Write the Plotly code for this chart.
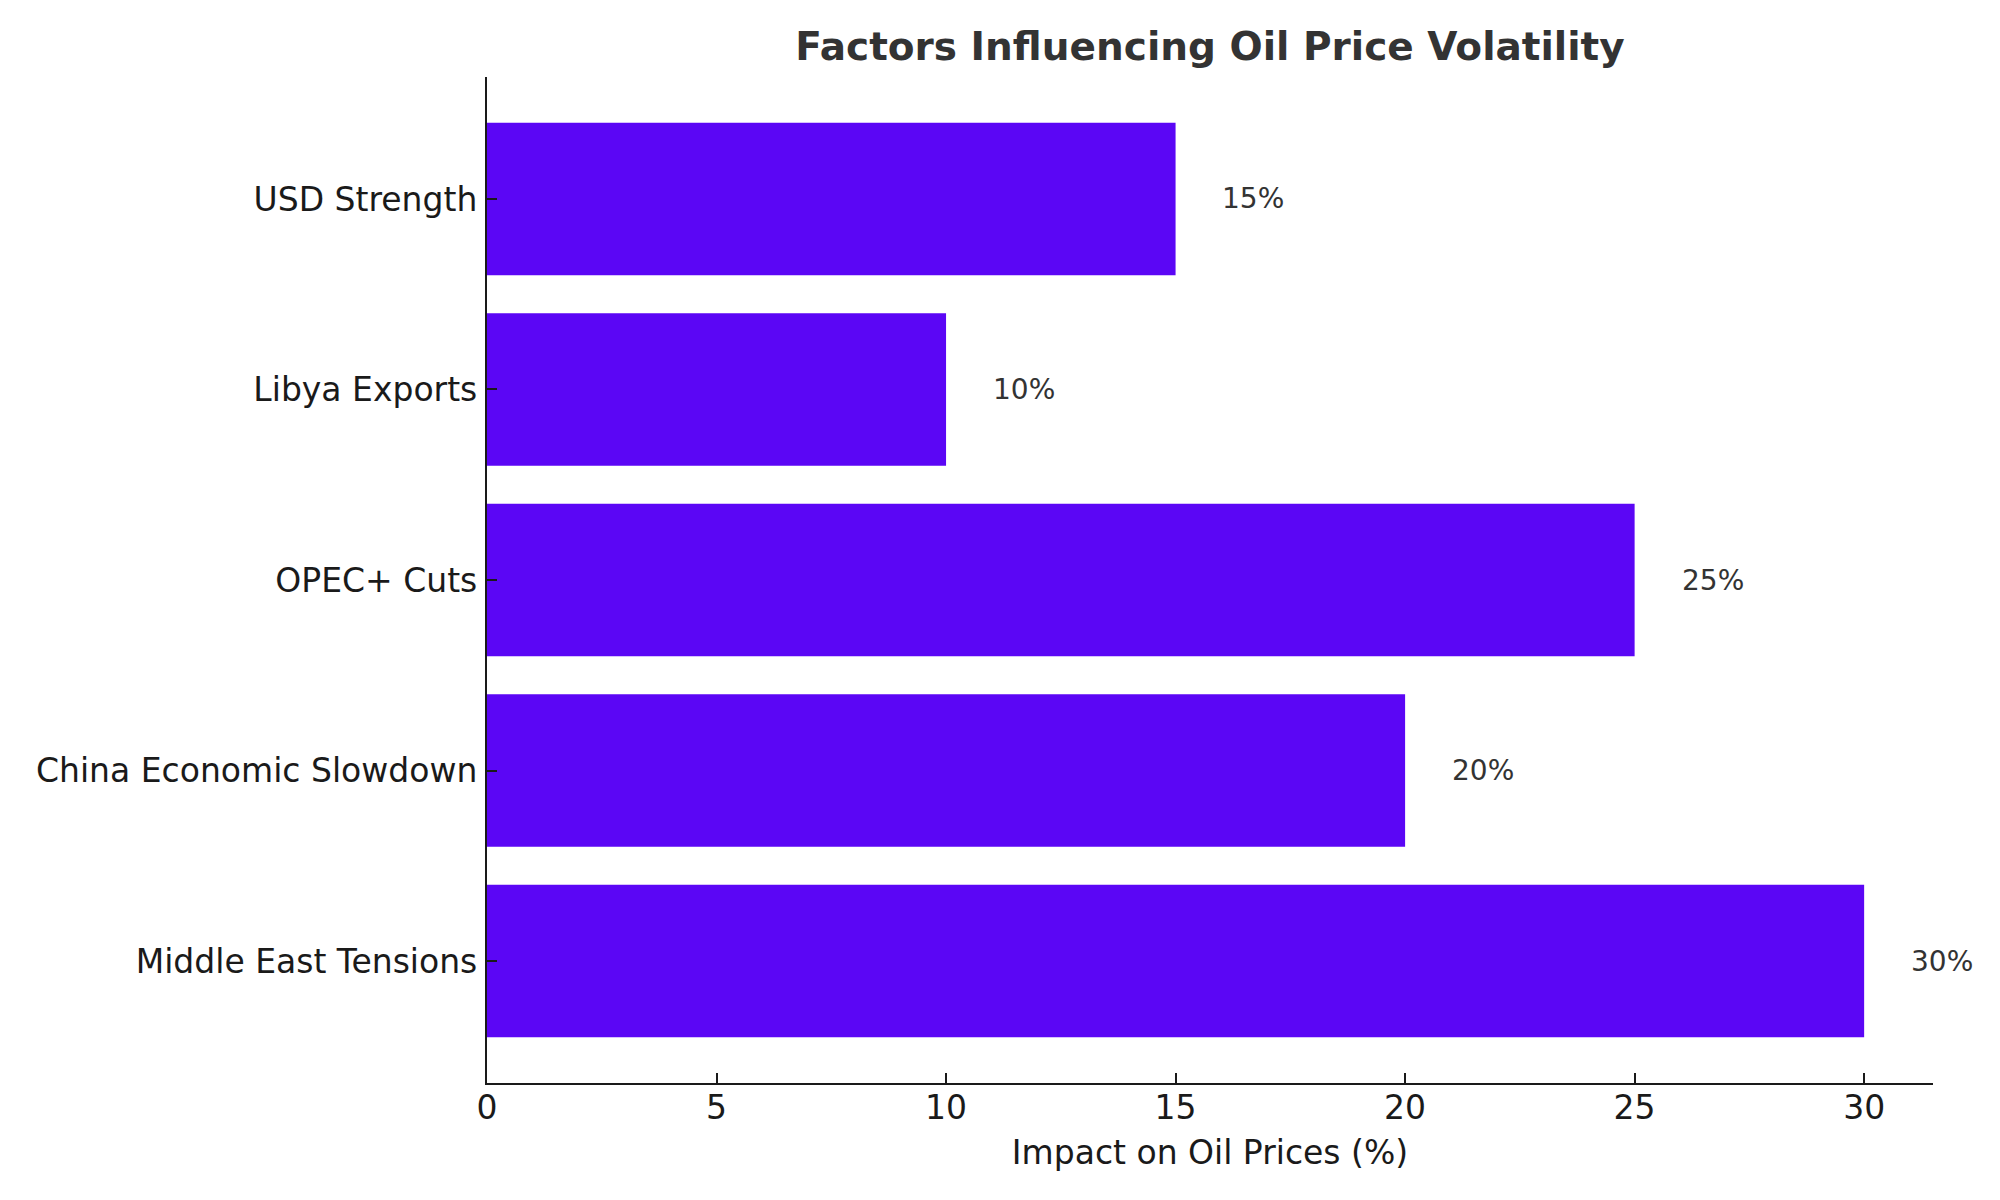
import plotly.graph_objects as go

categories = ["Middle East Tensions", "China Economic Slowdown", "OPEC+ Cuts", "Libya Exports", "USD Strength"]
impact = [30, 20, 25, 10, 15]
x_ticks = [0, 5, 10, 15, 20, 25, 30]

BAR_COLOR = "#5b06f5"
FONT = "DejaVu Sans"
W, H = 1992, 1192  # page body has an 8px margin

fig = go.Figure()
fig.add_trace(go.Bar(
    y=categories, x=impact, orientation="h",
    marker=dict(color=BAR_COLOR, line=dict(width=0)),
    width=0.8, hoverinfo="x+y",
))

for c, v in zip(categories, impact):
    fig.add_annotation(
        x=v + 1, y=c, text=f"{v}%", showarrow=False,
        xanchor="left", yanchor="middle", xref="x", yref="y",
        font=dict(family=FONT, size=28, color="#333333"), borderpad=0,
    )

fig.update_layout(
    width=W, height=H,
    paper_bgcolor="white", plot_bgcolor="white",
    margin=dict(l=479, r=67, t=69, b=117, autoexpand=False),
    showlegend=False,
    bargap=0.2,
    title=dict(
        text="<b>Factors Influencing Oil Price Volatility</b>",
        x=0.5, xref="paper", xanchor="center",
        y=1 - 38 / H, yref="container", yanchor="middle",
        font=dict(family=FONT, size=39, color="#333333"),
    ),
    font=dict(family=FONT, color="#1a1a1a"),
)

fig.update_xaxes(
    range=[0, 31.5], tickvals=x_ticks, ticktext=[str(t) for t in x_ticks],
    showgrid=False, zeroline=False,
    showline=True, linecolor="#1a1a1a", linewidth=2.2,
    ticks="inside", ticklen=10, tickwidth=2.2, tickcolor="#1a1a1a",
    tickfont=dict(family=FONT, size=33, color="#1a1a1a"),
    ticklabelstandoff=-6,
    title=dict(text="Impact on Oil Prices (%)", standoff=15,
               font=dict(family=FONT, size=33, color="#1a1a1a")),
    automargin=False, layer="above traces",
)
fig.update_yaxes(
    range=[-0.64, 4.64], type="category",
    showgrid=False, zeroline=False,
    showline=True, linecolor="#1a1a1a", linewidth=2.2,
    ticks="inside", ticklen=10, tickwidth=2.2, tickcolor="#1a1a1a",
    tickfont=dict(family=FONT, size=33, color="#1a1a1a"),
    ticklabelstandoff=1,
    automargin=False, layer="above traces",
)

fig.write_html("out.html")
